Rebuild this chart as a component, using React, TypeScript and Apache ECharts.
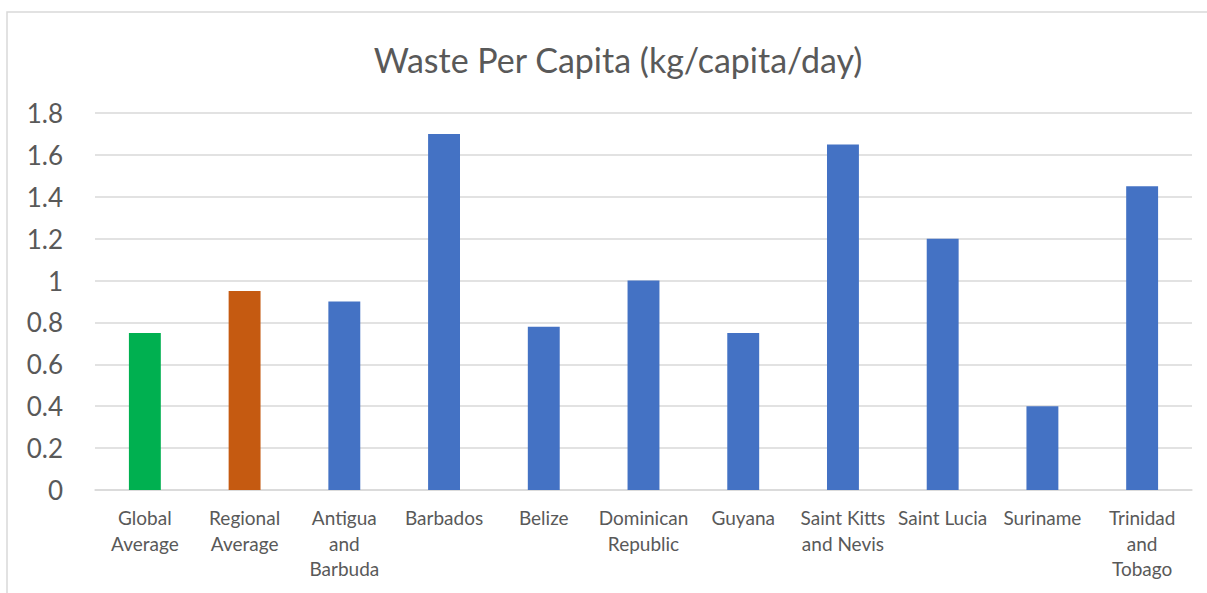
import React, { useEffect, useRef } from "react";
import * as echarts from "echarts";

const categories = [
  "Global Average",
  "Regional Average",
  "Antigua and Barbuda",
  "Barbados",
  "Belize",
  "Dominican Republic",
  "Guyana",
  "Saint Kitts and Nevis",
  "Saint Lucia",
  "Suriname",
  "Trinidad and Tobago",
];

// Category labels as they wrap under the axis
const tickLabels = [
  "Global\nAverage",
  "Regional\nAverage",
  "Antigua\nand\nBarbuda",
  "Barbados",
  "Belize",
  "Dominican\nRepublic",
  "Guyana",
  "Saint Kitts\nand Nevis",
  "Saint Lucia",
  "Suriname",
  "Trinidad\nand\nTobago",
];

const wastePerCapita = [0.75, 0.95, 0.9, 1.7, 0.78, 1.0, 0.75, 1.65, 1.2, 0.4, 1.45];

const barColors = [
  "#00B050",
  "#C55A11",
  "#4472C4",
  "#4472C4",
  "#4472C4",
  "#4472C4",
  "#4472C4",
  "#4472C4",
  "#4472C4",
  "#4472C4",
  "#4472C4",
];

const FONT = "Lato, 'Noto Sans', sans-serif";
const TEXT = "#595959";

export default function App() {
  const ref = useRef<HTMLDivElement>(null);

  useEffect(() => {
    document.body.style.margin = "0";
    if (!ref.current) return;
    const chart = echarts.init(ref.current, null, { renderer: "svg" });
    chart.setOption({
      animation: false,
      backgroundColor: "#ffffff",
      textStyle: { fontFamily: FONT },
      title: {
        text: "Waste Per Capita (kg/capita/day)",
        left: 613,
        top: 37,
        textAlign: "center",
        textStyle: { fontFamily: FONT, fontSize: 34, fontWeight: "normal", color: TEXT },
      },
      graphic: [
        {
          type: "rect",
          shape: { x: 7, y: 12, width: 1220, height: 600 },
          style: { fill: "none", stroke: "#D9D9D9", lineWidth: 1.5 },
          silent: true,
        },
      ],
      grid: { left: 95, right: 15, top: 113, bottom: 103, containLabel: false },
      xAxis: {
        type: "category",
        data: categories,
        axisLine: { show: true, lineStyle: { color: "#D9D9D9", width: 1.5 } },
        axisTick: { show: false },
        axisLabel: {
          interval: 0,
          margin: 15,
          color: TEXT,
          fontFamily: FONT,
          fontSize: 19,
          lineHeight: 25.5,
          formatter: (_v: string, i: number) => tickLabels[i],
        },
      },
      yAxis: {
        type: "value",
        min: 0,
        max: 1.8,
        interval: 0.2,
        axisLine: { show: false },
        axisTick: { show: false },
        splitLine: { lineStyle: { color: "#D9D9D9", width: 1.5 } },
        axisLabel: {
          margin: 32,
          color: TEXT,
          fontFamily: FONT,
          fontSize: 26,
          formatter: (v: number) => String(Math.round(v * 10) / 10),
        },
      },
      series: [
        {
          type: "bar",
          barWidth: "32%",
          data: wastePerCapita.map((v, i) => ({
            value: v,
            itemStyle: { color: barColors[i] },
          })),
        },
      ],
    });
    return () => chart.dispose();
  }, []);

  return <div ref={ref} style={{ width: 1207, height: 593 }} />;
}
